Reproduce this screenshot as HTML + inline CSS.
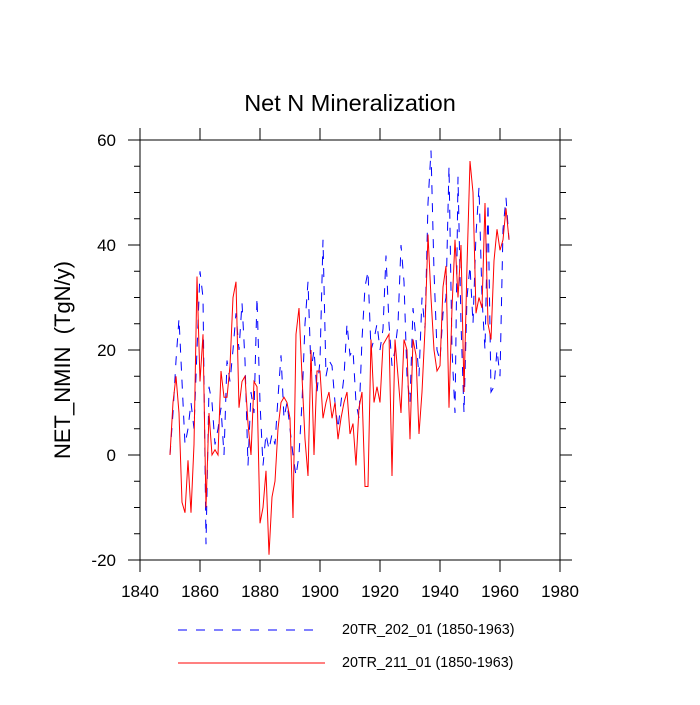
<!DOCTYPE html>
<html><head><meta charset="utf-8"><style>
body{margin:0;background:#fff}
svg text{font-family:"Liberation Sans",sans-serif;fill:#000}
</style></head><body>
<svg id="chart" width="700" height="700" xmlns="http://www.w3.org/2000/svg">
<text x="350" y="111" font-size="23.5" text-anchor="middle">Net N Mineralization</text>
<text transform="translate(70,360) rotate(-90)" font-size="22" text-anchor="middle" xml:space="preserve">NET_NMIN  (TgN/y)</text>
<g id="axes"></g>
<g id="series"></g>
<g>
<line x1="178" y1="630" x2="318" y2="630" stroke="#00f" stroke-width="1" stroke-dasharray="9,9"/>
<text x="342" y="634" font-size="14.3">20TR_202_01 (1850-1963)</text>
<line x1="178" y1="663" x2="325" y2="663" stroke="#f00" stroke-width="1"/>
<text x="342" y="667" font-size="14.3">20TR_211_01 (1850-1963)</text>
</g>
</svg>
<script>
const startYear = 1850;
const series202 = [0,8,18,26,14,2,5,10,5,20,35,30,-17,13,10,2,5,9,0,18,14,20,27,20,29,18,-2,12,8,30,10,-2,4,1,4,2,11,19,7,10,5,0,-4,0,10,25,33,16,20,12,18,41,15,18,17,10,5,10,15,25,19,20,10,7,22,32,35,20,22,25,20,24,38,25,17,20,25,40,33,15,10,28,22,15,30,24,48,58,35,20,18,27,30,55,20,8,53,25,8,30,36,25,42,51,30,20,48,12,13,20,15,43,49,41];
const series211 = [0,10,15,8,-9,-11,-1,-11,2,34,14,23,-10,8,0,1,0,16,11,11,17,30,33,9,14,15,6,0,14,13,-13,-10,-3,-19,-8,-5,5,10,11,10,7,-12,23,28,15,3,-4,20,0,16,16,7,10,12,7,10,3,7,10,12,4,6,-2,9,12,-6,-6,22,10,13,10,21,22,23,-4,22,15,8,22,20,3,22,19,4,12,24,42,30,20,16,17,32,36,9,28,41,30,40,12,36,56,50,27,30,28,48,25,22,37,43,39,41,47,41];
const xTicks = [1840,1860,1880,1900,1920,1940,1960,1980];
const yTicks = [-20,0,20,40,60];

const L=140,R=560,T=140,B=560;
const xs = v => L + (v-1840)/(1980-1840)*(R-L);
const ys = v => B - (v+20)/80*(B-T);
const NS="http://www.w3.org/2000/svg";
function mk(tag, attrs, parent){const e=document.createElementNS(NS,tag);for(const k in attrs)e.setAttribute(k,attrs[k]);parent.appendChild(e);return e;}
const ax=document.getElementById('axes');
const frame=mk('rect',{x:L,y:T,width:R-L,height:B-T,fill:'none',stroke:'#000','stroke-width':1},ax);


xTicks.forEach(t=>{
  const x=xs(t);
  mk('line',{x1:x,y1:B,x2:x,y2:B+12,stroke:'#000'},ax);
  mk('line',{x1:x,y1:T,x2:x,y2:T-12,stroke:'#000'},ax);
  const tx=mk('text',{x:x,y:B+37,'font-size':17,'text-anchor':'middle'},ax);
  tx.textContent=t;
  
  
});
for(let v=-20;v<=60;v+=5){
  const y=ys(v), major=(v%20===0), len=major?12:6;
  mk('line',{x1:L,y1:y,x2:L-len,y2:y,stroke:'#000'},ax);
  mk('line',{x1:R,y1:y,x2:R+len,y2:y,stroke:'#000'},ax);
}
yTicks.forEach(t=>{
  const tx=mk('text',{x:L-24,y:ys(t)+6,'font-size':17,'text-anchor':'end'},ax);
  tx.textContent=t;
  
  
});
const sg=document.getElementById('series');
function line(data,color,dash,name){
  const pts=data.map((v,i)=>xs(startYear+i)+','+ys(v)).join(' ');
  const p=mk('polyline',{points:pts,fill:'none',stroke:color,'stroke-width':1},sg);
  if(dash)p.setAttribute('stroke-dasharray',dash);
  
  
}
line(series202,'#00f','9,9','line-20tr-202');
line(series211,'#f00',null,'line-20tr-211');
</script>
</body></html>
